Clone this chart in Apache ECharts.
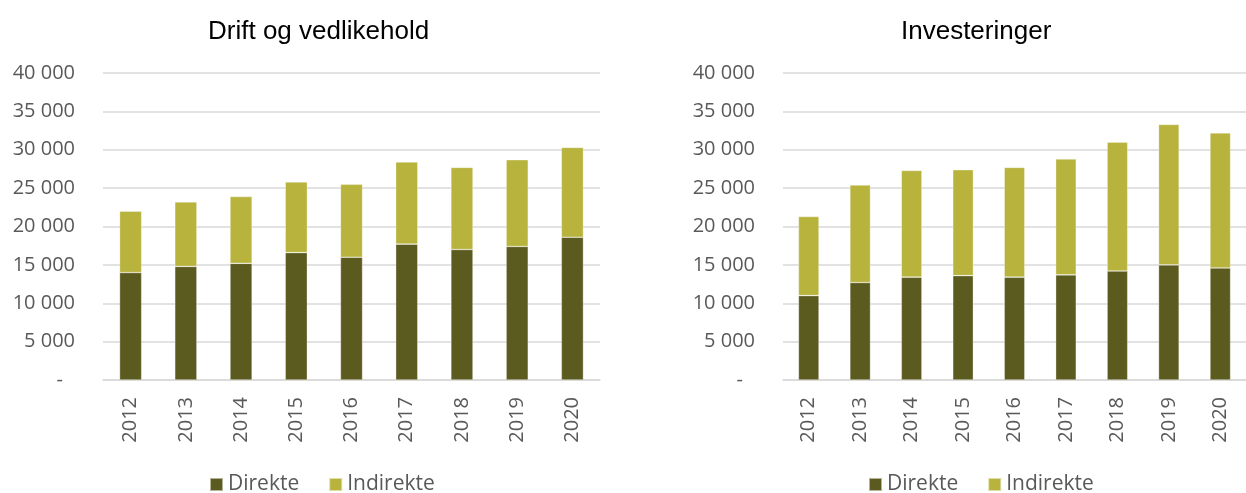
<!DOCTYPE html>
<html>
<head>
<meta charset="utf-8">
<script src="https://cdn.jsdelivr.net/npm/echarts@6/dist/echarts.min.js"></script>
<style>
  html, body { margin: 0; padding: 0; background: #fff; }
  #chart { width: 1246px; height: 493px; }
</style>
</head>
<body>
<div id="chart"></div>
<script>
// Years on the category axis (shared by both panels)
const years = ['2012', '2013', '2014', '2015', '2016', '2017', '2018', '2019', '2020'];

// Drift og vedlikehold
const driftDirekte   = [14000, 14800, 15200, 16600, 16000, 17700, 17000, 17400, 18600];
const driftIndirekte = [8000, 8400, 8700, 9200, 9500, 10700, 10700, 11300, 11700];

// Investeringer
const invDirekte   = [11000, 12700, 13400, 13600, 13400, 13700, 14200, 15000, 14600];
const invIndirekte = [10300, 12700, 13900, 13800, 14300, 15100, 16800, 18300, 17600];

// Value axis range and step
const yMin = 0, yMax = 40000, yStep = 5000;

const COL_DIR = '#5B5A1F';
const COL_IND = '#B7B33D';
const GRID_COL = '#D9D9D9';
const LABEL_COL = '#595959';
const LABEL_FONT = '"Open Sans", "Noto Sans", sans-serif';
const TITLE_FONT = '"Liberation Sans", Arial, sans-serif';

function fmtThousands(v) {
  if (v === 0) return '{z|-}';
  return String(v).replace(/\B(?=(\d{3})+(?!\d))/g, ' ');
}

function yAxisCfg(gridIndex) {
  return {
    type: 'value', gridIndex, min: yMin, max: yMax, interval: yStep,
    axisLine: { show: false }, axisTick: { show: false },
    splitLine: { lineStyle: { color: GRID_COL, width: 1.5 } },
    axisLabel: {
      margin: 28, color: LABEL_COL, fontSize: 20, fontFamily: LABEL_FONT,
      formatter: fmtThousands,
      rich: { z: { color: LABEL_COL, fontSize: 20, fontFamily: LABEL_FONT, padding: [0, 12, 0, 0] } }
    }
  };
}

function xAxisCfg(gridIndex) {
  return {
    type: 'category', gridIndex, data: years,
    axisLine: { lineStyle: { color: GRID_COL, width: 1.5 } },
    axisTick: { show: false },
    axisLabel: { rotate: 90, margin: 17, color: LABEL_COL, fontSize: 20, fontFamily: LABEL_FONT, interval: 0 }
  };
}

function barSeries(name, data, color, axisIndex) {
  return {
    name, type: 'bar', stack: 'total' + axisIndex, data,
    xAxisIndex: axisIndex, yAxisIndex: axisIndex,
    barWidth: '40%',
    itemStyle: { color, borderColor: 'rgba(255,255,255,0.55)', borderWidth: 0.6 },
    emphasis: { disabled: true }
  };
}

const legendCfg = (left) => ({
  left, top: 474, padding: 0, itemWidth: 13, itemHeight: 13, itemGap: 29, icon: 'rect',
  data: ['Direkte', 'Indirekte'],
  textStyle: { color: LABEL_COL, fontSize: 21, fontFamily: LABEL_FONT }
});

const titleCfg = (text, left) => ({
  text, left, top: 19, padding: 0,
  textStyle: { fontFamily: TITLE_FONT, fontSize: 26, fontWeight: 'normal', color: '#000' }
});

const chart = echarts.init(document.getElementById('chart'), null, { renderer: 'canvas' });
chart.setOption({
  animation: false,
  backgroundColor: '#fff',
  title: [titleCfg('Drift og vedlikehold', 208), titleCfg('Investeringer', 901)],
  legend: [legendCfg(209), legendCfg(868)],
  grid: [
    { left: 103, top: 73, width: 497, height: 307 },
    { left: 783, top: 73, width: 473, height: 307 }
  ],
  xAxis: [xAxisCfg(0), xAxisCfg(1)],
  yAxis: [yAxisCfg(0), yAxisCfg(1)],
  series: [
    barSeries('Direkte', driftDirekte, COL_DIR, 0),
    barSeries('Indirekte', driftIndirekte, COL_IND, 0),
    barSeries('Direkte', invDirekte, COL_DIR, 1),
    barSeries('Indirekte', invIndirekte, COL_IND, 1)
  ]
});
</script>
</body>
</html>
